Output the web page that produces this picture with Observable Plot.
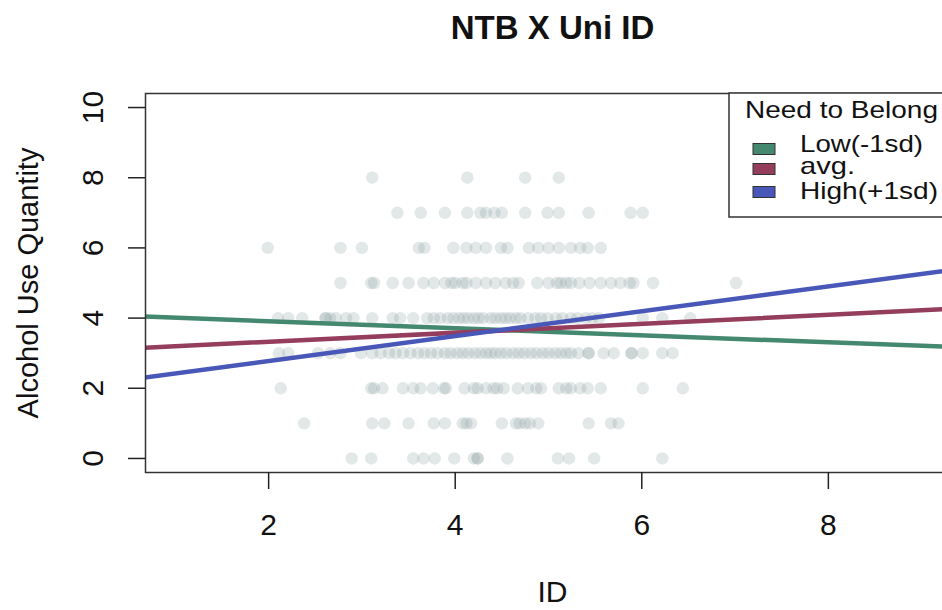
<!DOCTYPE html>
<html><head><meta charset="utf-8">
<script src="https://cdn.jsdelivr.net/npm/d3@7"></script>
<script src="https://cdn.jsdelivr.net/npm/@observablehq/plot@0.6"></script>
<style>
body{margin:0;background:#fff;}
svg{font-family:"Liberation Sans",Arial,Helvetica,sans-serif;}
</style>
</head><body><div id="chart"></div>
<script>
const title = "NTB X Uni ID";
const xLabel = "ID";
const yLabel = "Alcohol Use Quantity";
const xTicks = [2, 4, 6, 8];
const yTicks = [0, 2, 4, 6, 8, 10];
const legendTitle = "Need to Belong";
const seriesNames = ["Low(-1sd)", "avg.", "High(+1sd)"];
const seriesColors = ["#44896f", "#943d5c", "#4857b8"];

// fitted lines: values at ID = 0 and ID = 10
const lineX = [0, 10];
const lowY = [4.11, 3.11];
const avgY = [3.07, 4.35];
const highY = [2.07, 5.61];

// observed points: ID values at each Alcohol Use Quantity level
const row0 = [2.89, 3.10, 3.55, 3.66, 3.78, 3.99, 4.20, 4.24, 4.24, 4.56, 5.10, 5.22, 5.49, 6.22];
const row1 = [2.38, 3.11, 3.24, 3.50, 3.77, 3.89, 4.08, 4.12, 4.17, 4.50, 4.65, 4.69, 4.75, 4.80, 4.89, 5.43, 5.67, 5.75];
const row2 = [2.13, 3.10, 3.13, 3.22, 3.44, 3.55, 3.63, 3.76, 3.88, 3.90, 4.10, 4.20, 4.24, 4.33, 4.41, 4.45, 4.52, 4.67, 4.78, 4.87, 4.92, 5.11, 5.19, 5.24, 5.34, 5.42, 5.56, 6.01, 6.44];
const row3 = [2.11, 2.21, 2.53, 2.66, 2.77, 2.99, 3.11, 3.20, 3.29, 3.36, 3.44, 3.52, 3.60, 3.67, 3.74, 3.81, 3.89, 3.95, 4.02, 4.08, 4.14, 4.21, 4.27, 4.33, 4.38, 4.43, 4.49, 4.55, 4.62, 4.68, 4.74, 4.81, 4.87, 4.94, 5.00, 5.07, 5.13, 5.19, 5.24, 5.32, 5.43, 5.43, 5.59, 5.70, 5.89, 5.89, 6.01, 6.22, 6.33];
const row4 = [2.10, 2.21, 2.36, 2.61, 2.61, 2.66, 2.72, 2.83, 2.91, 3.11, 3.33, 3.41, 3.55, 3.70, 3.77, 3.84, 3.92, 3.98, 4.04, 4.09, 4.14, 4.20, 4.25, 4.30, 4.38, 4.43, 4.49, 4.54, 4.59, 4.65, 4.70, 4.78, 4.86, 4.92, 4.99, 5.08, 5.15, 5.24, 5.31, 5.40, 5.47, 5.54, 6.01, 6.22, 6.52];
const row5 = [2.77, 3.10, 3.13, 3.33, 3.50, 3.66, 3.77, 3.89, 3.96, 4.00, 4.08, 4.12, 4.22, 4.33, 4.43, 4.54, 4.62, 4.68, 4.88, 5.00, 5.09, 5.13, 5.19, 5.24, 5.33, 5.44, 5.56, 5.67, 5.77, 5.87, 5.91, 6.12, 7.01];
const row6 = [1.99, 2.77, 3.00, 3.61, 3.67, 3.98, 4.12, 4.22, 4.33, 4.49, 4.56, 4.79, 4.89, 5.00, 5.11, 5.24, 5.34, 5.42, 5.56];
const row7 = [3.38, 3.63, 3.89, 4.13, 4.27, 4.33, 4.42, 4.50, 4.75, 4.99, 5.11, 5.43, 5.88, 6.01];
const row8 = [3.11, 4.13, 4.75, 5.11];
const rows = [row0, row1, row2, row3, row4, row5, row6, row7, row8];

const points = rows.flatMap((xs, level) => xs.map(x => ({x, y: level})));
const lines = [lowY, avgY, highY].flatMap((ys, s) => ys.map((y, j) => ({x: lineX[j], y, s: seriesNames[s]})));

const chart = Plot.plot({
  width: 942,
  height: 610,
  marginLeft: 145,
  marginRight: -9,
  marginTop: 93,
  marginBottom: 138,
  x: {domain: [0.68, 9.32]},
  y: {domain: [-0.4, 10.4]},
  color: {domain: seriesNames, range: seriesColors},
  style: {fontFamily: "Liberation Sans, Arial, Helvetica, sans-serif", color: "#222", background: "#fff"},
  marks: [
    Plot.dot(points, {x: "x", y: "y", r: 6.2, fill: "rgb(140,160,160)", fillOpacity: 0.25, stroke: "none"}),
    Plot.line(lines, {x: "x", y: "y", z: "s", stroke: "s", strokeWidth: 4.5, clip: true}),
    Plot.frame({stroke: "#333", strokeWidth: 1.5}),
    Plot.axisX(xTicks, {tickSize: 17, tickPadding: 24, fontSize: 30, label: null, strokeWidth: 1.5, fill: "#111"}),
    Plot.axisY(yTicks, {tickSize: 17, tickFormat: () => "", label: null, strokeWidth: 1.5}),
    Plot.text(yTicks, {y: d => d, text: d => String(d), frameAnchor: "left", textAnchor: "middle", lineAnchor: "middle", dx: -52, rotate: -90, fontSize: 30, fill: "#111"}),
    Plot.text([yLabel], {text: d => d, frameAnchor: "left", textAnchor: "middle", lineAnchor: "middle", dx: -117, rotate: -90, fontSize: 29, fill: "#111"}),
    Plot.text([xLabel], {text: d => d, frameAnchor: "bottom", textAnchor: "middle", lineAnchor: "middle", dy: 120, dx: 4, fontSize: 30, fill: "#111"}),
    Plot.text([title], {text: d => d, frameAnchor: "top", textAnchor: "middle", lineAnchor: "middle", dy: -65, dx: 4, fontSize: 33, fontWeight: "bold", fill: "#111"})
  ]
});

// legend (R-style boxed legend, top-right)
const svg = d3.select(chart);
const lg = svg.append("g").attr("text-anchor", "start");
lg.append("rect").attr("x", 729).attr("y", 93).attr("width", 240).attr("height", 124)
  .attr("fill", "#fff").attr("stroke", "#333").attr("stroke-width", 1.5);
lg.append("text").attr("x", 745).attr("y", 118).attr("font-size", 24).attr("text-anchor", "start")
  .attr("textLength", 193).attr("lengthAdjust", "spacingAndGlyphs").attr("fill", "#111").text(legendTitle);
const rowY = [149, 169, 192];
const baseY = [152, 174, 199];
const textLen = [123, 55, 138];
seriesNames.forEach((name, i) => {
  lg.append("rect").attr("x", 753).attr("y", rowY[i] - 5.5).attr("width", 22).attr("height", 11)
    .attr("fill", seriesColors[i]).attr("stroke", "#333").attr("stroke-width", 1);
  lg.append("text").attr("x", 800).attr("y", baseY[i]).attr("font-size", 24).attr("text-anchor", "start")
    .attr("textLength", textLen[i]).attr("lengthAdjust", "spacingAndGlyphs").attr("fill", "#111").text(name);
});

document.getElementById("chart").appendChild(chart);
</script>
</body></html>
